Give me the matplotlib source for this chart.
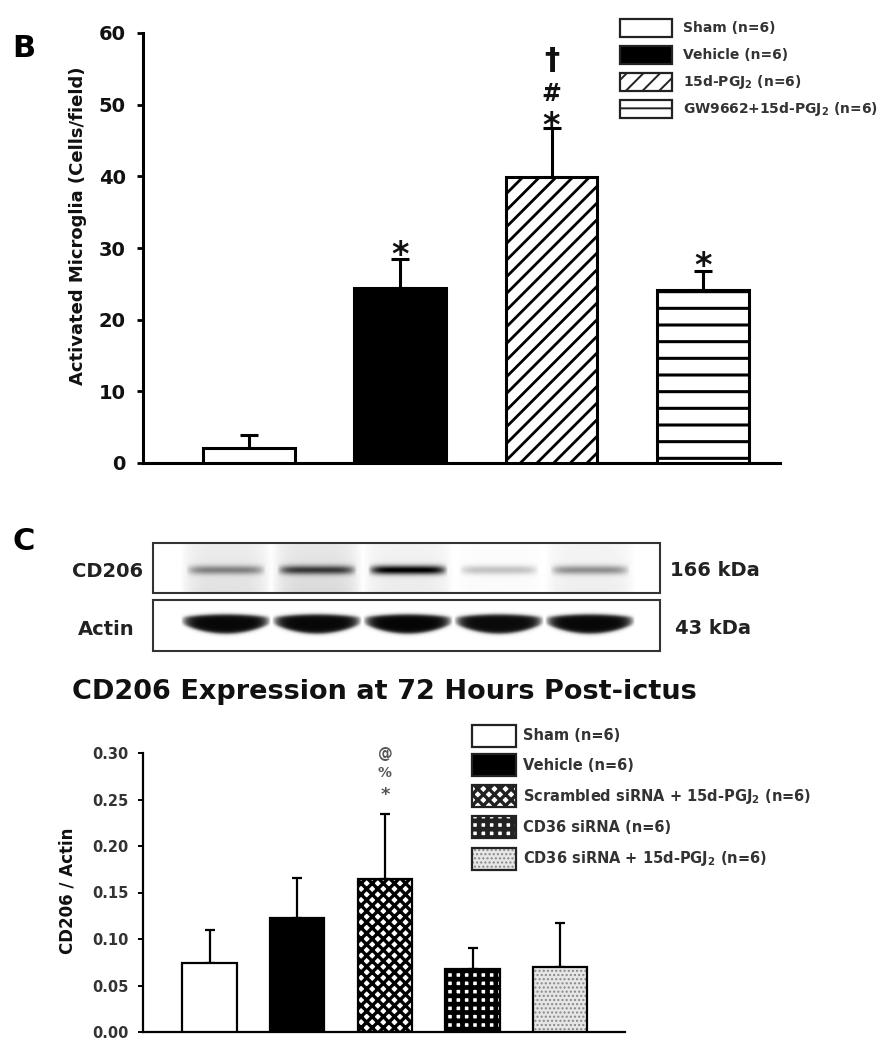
import numpy as np
import matplotlib
matplotlib.use("Agg")
import matplotlib.pyplot as plt
from matplotlib.patches import Rectangle

# ---------------- data ----------------
b_labels = ["Sham (n=6)", "Vehicle (n=6)", r"15d-PGJ$_\mathbf{2}$ (n=6)",
            r"GW9662+15d-PGJ$_\mathbf{2}$ (n=6)"]
b_means = [2.1, 24.4, 39.9, 24.1]
b_sem = [1.8, 4.1, 6.8, 2.7]
b_sig = [[], ["*"], ["*", "#", "\u2020"], ["*"]]
b_yticks = [0, 10, 20, 30, 40, 50, 60]
b_ylabel = "Activated Microglia (Cells/field)"

c_labels = ["Sham (n=6)", "Vehicle (n=6)",
            r"Scrambled siRNA + 15d-PGJ$_\mathbf{2}$ (n=6)",
            "CD36 siRNA (n=6)", r"CD36 siRNA + 15d-PGJ$_\mathbf{2}$ (n=6)"]
c_means = [0.074, 0.123, 0.164, 0.068, 0.070]
c_sem = [0.036, 0.043, 0.070, 0.022, 0.047]
c_sig = [[], [], ["*", "%", "@"], [], []]
c_yticks = [0.00, 0.05, 0.10, 0.15, 0.20, 0.25, 0.30]
c_ylabel = "CD206 / Actin"
c_title = "CD206 Expression at 72 Hours Post-ictus"

blot_rows = ["CD206", "Actin"]
blot_kda = ["166 kDa", "43 kDa"]
cd206_band = [0.40, 0.66, 0.95, 0.22, 0.38]
cd206_smear = [0.12, 0.15, 0.08, 0.02, 0.07]
actin_band = [0.97, 0.97, 0.98, 0.96, 0.97]

# ---------------- layout helpers ----------------
W, H = 893, 1050
plt.rcParams["font.family"] = ["DejaVu Sans"]
plt.rcParams["font.weight"] = "bold"
plt.rcParams["mathtext.default"] = "bf"
plt.rcParams["hatch.linewidth"] = 2.0

fig = plt.figure(figsize=(W / 100, H / 100), dpi=100)


def frac(x0, y0, x1, y1):
    return [x0 / W, 1 - y1 / H, (x1 - x0) / W, (y1 - y0) / H]


def set_hlw(p, lw):
    if hasattr(p, "set_hatch_linewidth"):
        p.set_hatch_linewidth(lw)


# overlay axes in pixel coordinates (for labels, legends and blot)
ov = fig.add_axes([0, 0, 1, 1], zorder=5)
ov.set_xlim(0, W)
ov.set_ylim(H, 0)
ov.axis("off")

# glyph vertical centre (in em above baseline) for DejaVu Sans Bold
glyph_c = {"*": 0.56, "#": 0.36, "\u2020": 0.29, "%": 0.36, "@": 0.29}

# ---------------- panel B ----------------
axB = fig.add_axes(frac(143, 33, 780, 463))
xb = np.arange(len(b_means))
b_styles = [dict(facecolor="white", hatch=None),
            dict(facecolor="black", hatch=None),
            dict(facecolor="white", hatch="//"),
            dict(facecolor="white", hatch="-")]
b_hlw = [1.0, 1.0, 2.0, 2.2]
for i in range(len(b_means)):
    bars = axB.bar(xb[i], b_means[i], width=0.605, edgecolor="black",
                   linewidth=2.2, zorder=3, **b_styles[i])
    for p in bars:
        set_hlw(p, b_hlw[i])
axB.errorbar(xb, b_means, yerr=[np.zeros(len(b_sem)), b_sem], fmt="none",
             ecolor="black", elinewidth=2.2, capsize=6.2, capthick=2.2, zorder=2)
axB.set_xlim(-0.70, 3.51)
axB.set_ylim(0, 60)
axB.set_yticks(b_yticks)
axB.set_yticklabels([str(t) for t in b_yticks], fontsize=14, fontweight="bold",
                    color="#111111")
axB.set_xticks([])
for s in ["top", "right"]:
    axB.spines[s].set_visible(False)
for s in ["left", "bottom"]:
    axB.spines[s].set_linewidth(2.2)
axB.tick_params(axis="y", direction="out", length=4.5, width=2.0, pad=8)

b_sig_sizes = {"*": 24, "#": 17, "\u2020": 22}
b_sig_off = [[], [12], [11, 36, 68], [14]]
for i, marks in enumerate(b_sig):
    top = b_means[i] + b_sem[i]
    for m, off in zip(marks, b_sig_off[i]):
        fs = b_sig_sizes[m]
        dy_pt = off * 0.72 - glyph_c[m] * fs
        axB.annotate(m, xy=(xb[i], top), xytext=(0, dy_pt),
                     textcoords="offset points", ha="center", va="baseline",
                     fontsize=fs, fontweight="bold", color="#111111",
                     annotation_clip=False)

fig.text(78 / W, 1 - 226 / H, b_ylabel, rotation=90, ha="center", va="center",
         fontsize=13, fontweight="bold", color="#111111")
ov.text(12, 57, "B", fontsize=22, fontweight="bold", ha="left", va="baseline")

# legend B
b_leg_y = [28, 55, 82, 109]
for i, lab in enumerate(b_labels):
    r = Rectangle((620, b_leg_y[i] - 9), 52, 18, edgecolor="#222222",
                  linewidth=1.6, **b_styles[i])
    set_hlw(r, 1.4)
    ov.add_patch(r)
    ov.text(683, b_leg_y[i], lab, fontsize=10, fontweight="bold",
            color="#333333", ha="left", va="center")

# ---------------- blot ----------------
ov.text(12, 550, "C", fontsize=22, fontweight="bold", ha="left", va="baseline")
box_x0, box_x1 = 153, 660
boxes = [(543, 593), (600, 651)]
lane_c = 73 + 91 * np.arange(5)

# CD206 image
bw = box_x1 - box_x0
h0 = boxes[0][1] - boxes[0][0]
X, Y = np.meshgrid(np.arange(bw) + 0.5, np.arange(h0) + 0.5)
img = np.zeros_like(X)
for i in range(5):
    dx = (X - lane_c[i]) / 40.0
    px = np.clip(1 - dx ** 6, 0, 1)
    band = cd206_band[i] * px * np.exp(-((Y - 27) / 4.5) ** 2)
    haze = cd206_smear[i] * np.clip(1 - ((X - lane_c[i]) / 46.0) ** 4, 0, 1) \
        * (0.6 + 0.4 * Y / h0)
    img += band + haze
img = np.clip(img, 0, 1)
ov.imshow(1 - img, cmap="gray", vmin=0, vmax=1, aspect="auto",
          extent=(box_x0, box_x1, boxes[0][1], boxes[0][0]), zorder=1,
          interpolation="bilinear")

# Actin image
h1 = boxes[1][1] - boxes[1][0]
X, Y = np.meshgrid(np.arange(bw) + 0.5, np.arange(h1) + 0.5)
img = np.zeros_like(X)
for i in range(5):
    dx = (X - lane_c[i]) / 45.0
    inside = np.clip(1 - dx ** 2, 0, 1)
    px = np.clip(1 - dx ** 8, 0, 1)
    centre = 20.5 + 3.5 * inside
    thick = 3.0 + 6.5 * inside
    prof = 1 / (1 + np.exp((np.abs(Y - centre) - thick) / 1.0))
    img += actin_band[i] * px * prof
img = np.clip(img, 0, 1)
ov.imshow(1 - img, cmap="gray", vmin=0, vmax=1, aspect="auto",
          extent=(box_x0, box_x1, boxes[1][1], boxes[1][0]), zorder=1,
          interpolation="bilinear")

for (y0, y1) in boxes:
    ov.add_patch(Rectangle((box_x0, y0), box_x1 - box_x0, y1 - y0,
                           fill=False, edgecolor="#333333", linewidth=1.5,
                           zorder=2))
ov.text(143, 577, blot_rows[0], fontsize=14, fontweight="bold", color="#222222",
        ha="right", va="baseline")
ov.text(135, 635, blot_rows[1], fontsize=14, fontweight="bold", color="#222222",
        ha="right", va="baseline")
ov.text(670, 576, blot_kda[0], fontsize=14, fontweight="bold", color="#222222",
        ha="left", va="baseline")
ov.text(675, 634, blot_kda[1], fontsize=14, fontweight="bold", color="#222222",
        ha="left", va="baseline")

ov.text(384, 692, c_title, fontsize=19.5, fontweight="bold", color="#111111",
        ha="center", va="center")

# ---------------- panel C chart ----------------
axC = fig.add_axes(frac(143, 753, 625, 1032))
xc = np.arange(len(c_means))
c_styles = [dict(facecolor="white", hatch=None),
            dict(facecolor="black", hatch=None),
            dict(facecolor="white", hatch="xxx"),
            dict(facecolor="white", hatch="++"),
            dict(facecolor="#e6e6e6", hatch="....")]
c_hlw = [1.0, 1.0, 2.4, 3.4, 1.0]
for i in range(len(c_means)):
    st = dict(c_styles[i])
    if i == 4:
        back = axC.bar(xc[i], c_means[i], width=0.62, edgecolor="#888888",
                       linewidth=0, zorder=3, **st)
        for p in back:
            set_hlw(p, 1.0)
        axC.bar(xc[i], c_means[i], width=0.62, fill=False, edgecolor="black",
                linewidth=1.6, zorder=4)
    else:
        bars = axC.bar(xc[i], c_means[i], width=0.62, edgecolor="black",
                       linewidth=1.6, zorder=3, **st)
        for p in bars:
            set_hlw(p, c_hlw[i])
axC.errorbar(xc, c_means, yerr=[np.zeros(len(c_sem)), c_sem], fmt="none",
             ecolor="black", elinewidth=1.6, capsize=3.3, capthick=1.6, zorder=2)
axC.set_xlim(-0.76, 4.74)
axC.set_ylim(0, 0.30)
axC.set_yticks(c_yticks)
axC.set_yticklabels([f"{t:.2f}" for t in c_yticks], fontsize=10.5,
                    fontweight="bold", color="#333333")
axC.set_xticks([])
for s in ["top", "right"]:
    axC.spines[s].set_visible(False)
for s in ["left", "bottom"]:
    axC.spines[s].set_linewidth(1.6)
axC.tick_params(axis="y", direction="out", length=3.6, width=1.4, pad=7)

c_sig_sizes = {"*": 13, "%": 10, "@": 10.5}
c_sig_off = [[], [], [24, 42, 61], [], []]
for i, marks in enumerate(c_sig):
    top = c_means[i] + c_sem[i]
    for m, off in zip(marks, c_sig_off[i]):
        fs = c_sig_sizes[m]
        dy_pt = off * 0.72 - glyph_c[m] * fs
        axC.annotate(m, xy=(xc[i], top), xytext=(0, dy_pt),
                     textcoords="offset points", ha="center", va="baseline",
                     fontsize=fs, fontweight="bold", color="#555555",
                     annotation_clip=False)

fig.text(68 / W, 1 - 891 / H, c_ylabel, rotation=90, ha="center", va="center",
         fontsize=12, fontweight="bold", color="#111111")

# legend C
c_leg_y = [736, 765, 796, 827, 859]
for i, lab in enumerate(c_labels):
    st = dict(c_styles[i])
    if i == 4:
        r = Rectangle((472, c_leg_y[i] - 11), 44, 22, edgecolor="#888888",
                      linewidth=0, **st)
        set_hlw(r, 1.0)
        ov.add_patch(r)
        ov.add_patch(Rectangle((472, c_leg_y[i] - 11), 44, 22, fill=False,
                               edgecolor="#222222", linewidth=1.6))
    else:
        r = Rectangle((472, c_leg_y[i] - 11), 44, 22, edgecolor="#222222",
                      linewidth=1.6, **st)
        set_hlw(r, c_hlw[i])
        ov.add_patch(r)
    ov.text(523, c_leg_y[i], lab, fontsize=10.5, fontweight="bold",
            color="#333333", ha="left", va="center")

fig.savefig("out.png", dpi=100)
